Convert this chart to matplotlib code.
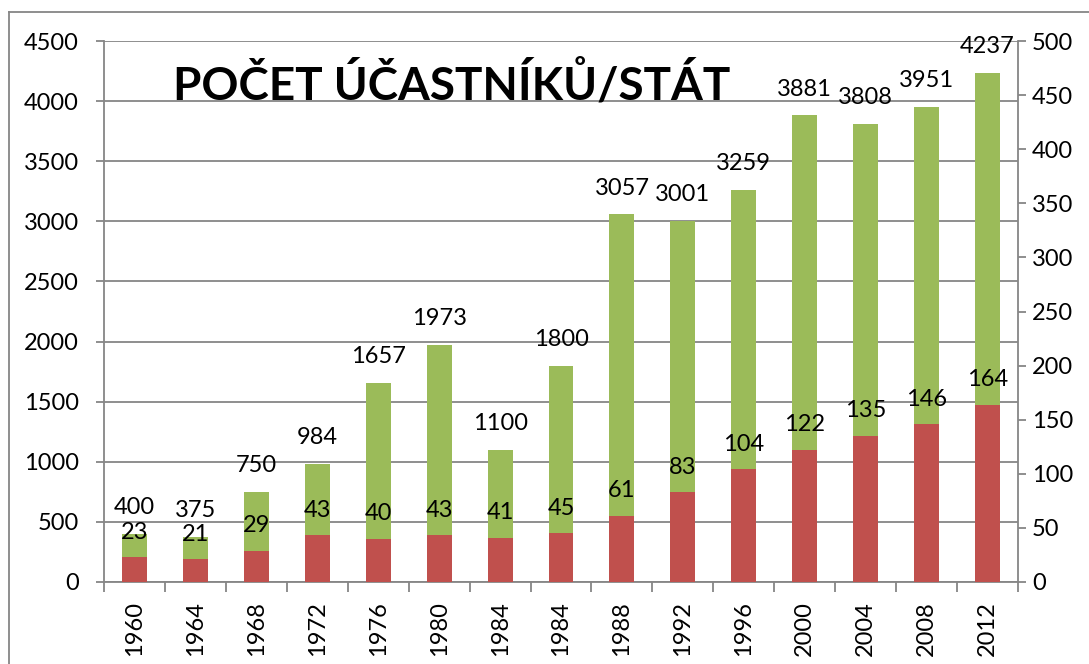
import matplotlib.pyplot as plt
import numpy as np
from matplotlib.lines import Line2D

# Data
years = ["1960", "1964", "1968", "1972", "1976", "1980", "1984", "1984",
         "1988", "1992", "1996", "2000", "2004", "2008", "2012"]
participants = [400, 375, 750, 984, 1657, 1973, 1100, 1800,
                3057, 3001, 3259, 3881, 3808, 3951, 4237]
states = [23, 21, 29, 43, 40, 43, 41, 45, 61, 83, 104, 122, 135, 146, 164]

green = "#9BBB59"
red = "#C0504D"
gray = "#868686"
fs = 17

plt.rcParams["font.family"] = ["Lato", "DejaVu Sans"]

fig = plt.figure(figsize=(10.89, 6.64), dpi=100)
ax1 = fig.add_axes([104 / 1089, 82 / 664, 914 / 1089, 541 / 664])
ax2 = ax1.twinx()

x = np.arange(len(years))
w = 0.41

# participants on the left axis
ax1.bar(x, participants, width=w, color=green, zorder=2)
ax1.set_ylim(0, 4500)
ax1.set_yticks(range(0, 4501, 500))
ax1.set_xlim(-0.5, len(years) - 0.5)
ax1.yaxis.grid(True, color=gray, linewidth=1.3, zorder=0)
ax1.set_axisbelow(True)

# states on the right axis
ax2.bar(x, states, width=w, color=red, zorder=2)
ax2.set_ylim(0, 500)
ax2.set_yticks(range(0, 501, 50))

for v, xi in zip(participants, x):
    ax1.annotate(str(v), (xi, v), xytext=(0, 19), textcoords="offset points",
                 ha="center", va="center", fontsize=fs, color="black")
for v, xi in zip(states, x):
    ax2.annotate(str(v), (xi, v), xytext=(0, 18), textcoords="offset points",
                 ha="center", va="center", fontsize=fs, color="black")

# x axis: labels at the bar centres, ticks at the category boundaries
ax1.set_xticks(x)
ax1.set_xticklabels(years, rotation=90, fontsize=fs)
ax1.set_xticks(np.arange(-0.5, len(years)), minor=True)
ax1.tick_params(axis="x", which="major", length=0, pad=14)
ax1.tick_params(axis="x", which="minor", length=7, width=1.3, color=gray)
ax1.tick_params(axis="y", length=6, width=1.3, color=gray, labelsize=fs, pad=12)
ax2.tick_params(axis="y", length=6, width=1.3, color=gray, labelsize=fs, pad=4)

for ax in (ax1, ax2):
    for s in ax.spines.values():
        s.set_visible(False)
for s in (ax1.spines["left"], ax1.spines["bottom"], ax2.spines["right"]):
    s.set_visible(True)
    s.set_color(gray)
    s.set_linewidth(1.3)

fig.text(452 / 1089, 1 - 100 / 664, "POČET ÚČASTNÍKŮ/STÁT", ha="center",
         va="baseline", fontsize=33, fontweight="bold")

# chart border
fig.add_artist(Line2D([9 / 1089, 9 / 1089], [0, 1 - 12 / 664],
                      transform=fig.transFigure, color=gray, linewidth=1.3))
fig.add_artist(Line2D([9 / 1089, 1], [1 - 12 / 664, 1 - 12 / 664],
                      transform=fig.transFigure, color=gray, linewidth=1.3))

fig.savefig("out.png", dpi=100)
